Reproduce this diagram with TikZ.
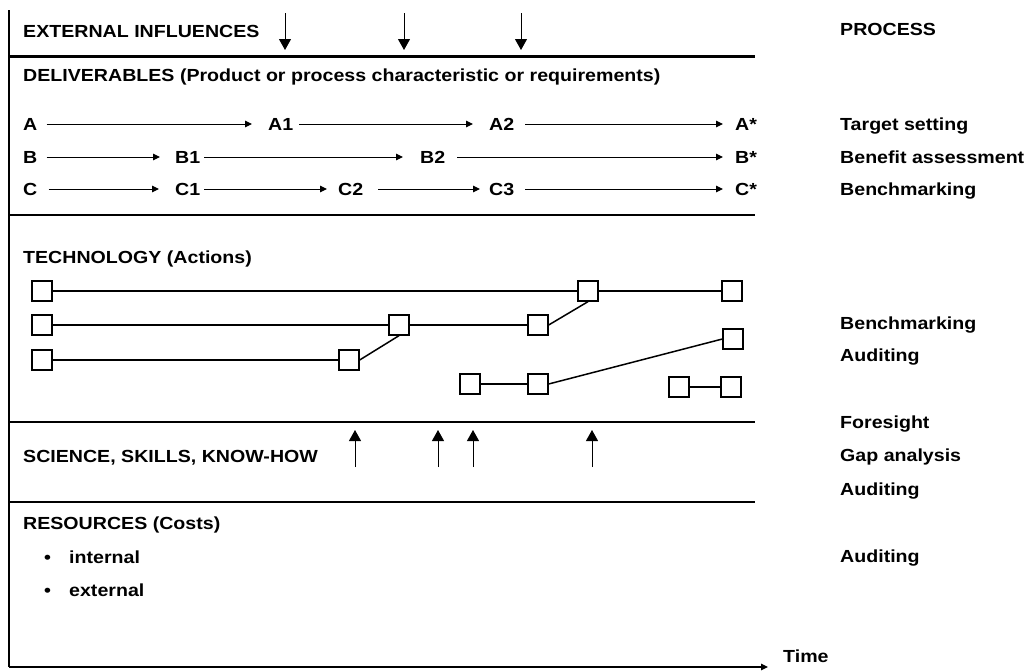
\documentclass[tikz,border=0pt]{standalone}
\usepackage{fontspec}
\setmainfont{Liberation Sans}[FakeStretch=1.12]
\usetikzlibrary{arrows.meta}
\begin{document}
\begin{tikzpicture}[x=1pt,y=-1pt,
  font=\fontsize{17.5}{21}\selectfont\bfseries,
  lbl/.style={anchor=base west, inner sep=0pt},
  dlbl/.style={anchor=base west, inner sep=0pt, text height=12.5pt, text depth=0pt},
  flow/.style={line width=1pt, -{Triangle[length=7pt,width=6.5pt]}},
  bigarrow/.style={line width=1pt, -{Triangle[length=11pt,width=12pt]}},
  sep/.style={line width=#1},
  techbox/.style={draw, line width=1.3pt, minimum size=20pt, inner sep=0pt, fill=white},
  techline/.style={line width=1.5pt},
]
\useasboundingbox (0,0) rectangle (1031,670);

% frame: time axis and section dividers
\coordinate (top) at (9,10);
\coordinate (origin) at (9,667);
\coordinate (tend) at (768,667);
\draw[line width=2pt] (top) -- (origin);
\draw[line width=1.2pt, -{Triangle[length=7pt,width=6.5pt]}] (origin) -- (tend);
\node[lbl] (time) at (783,662) {Time};

\coordinate (s1a) at (9,56.5);  \coordinate (s1b) at (755,56.5);
\coordinate (s2a) at (9,215);   \coordinate (s2b) at (755,215);
\coordinate (s3a) at (9,422);   \coordinate (s3b) at (755,422);
\coordinate (s4a) at (9,502);   \coordinate (s4b) at (755,502);
\draw[sep=3pt] (s1a) -- (s1b);
\draw[sep=2pt] (s2a) -- (s2b);
\draw[sep=2.4pt] (s3a) -- (s3b);
\draw[sep=1.8pt] (s4a) -- (s4b);

% section headings
\node[lbl] (ext) at (23,37) {EXTERNAL INFLUENCES};
\node[lbl] (del) at (23,81) {DELIVERABLES (Product or process characteristic or requirements)};
\node[lbl] (tech) at (23,263) {TECHNOLOGY (Actions)};
\node[lbl] (sci) at (23,462) {SCIENCE, SKILLS, KNOW-HOW};
\node[lbl] (res) at (23,529) {RESOURCES (Costs)};
\node[lbl] (b1) at (44,563) {\textbullet};
\node[lbl] (int) at (69,563) {internal};
\node[lbl] (b2) at (44,596) {\textbullet};
\node[lbl] (extn) at (69,596) {external};

% external influences
\foreach \x [count=\i] in {285,404,521} {
  \coordinate (ei\i a) at (\x,13);
  \coordinate (ei\i b) at (\x,50);
  \draw[bigarrow] (ei\i a) -- (ei\i b);
}

% science inputs
\foreach \x [count=\i] in {355,438,473,592} {
  \coordinate (sc\i a) at (\x,467);
  \coordinate (sc\i b) at (\x,430);
  \draw[bigarrow] (sc\i a) -- (sc\i b);
}

% deliverables
\node[dlbl] (A)  at (23,130.25)  {A};
\node[dlbl] (A1) at (268,130.25) {A1};
\node[dlbl] (A2) at (489,130.25) {A2};
\node[dlbl] (As) at (735,130.25) {A*};
\node[dlbl] (B)  at (23,163.25)  {B};
\node[dlbl] (B1) at (175,163.25) {B1};
\node[dlbl] (B2) at (420,163.25) {B2};
\node[dlbl] (Bs) at (735,163.25) {B*};
\node[dlbl] (C)  at (23,195.25)  {C};
\node[dlbl] (C1) at (175,195.25) {C1};
\node[dlbl] (C2) at (338,195.25) {C2};
\node[dlbl] (C3) at (489,195.25) {C3};
\node[dlbl] (Cs) at (735,195.25) {C*};

\draw[flow, shorten <=9pt,  shorten >=16pt] (A)  -- (A1);
\draw[flow, shorten <=6pt,  shorten >=16pt] (A1) -- (A2);
\draw[flow, shorten <=11pt, shorten >=12pt] (A2) -- (As);
\draw[flow, shorten <=9pt,  shorten >=15pt] (B)  -- (B1);
\draw[flow, shorten <=4pt,  shorten >=17pt] (B1) -- (B2);
\draw[flow, shorten <=12pt, shorten >=12pt] (B2) -- (Bs);
\draw[flow, shorten <=11pt, shorten >=16pt] (C)  -- (C1);
\draw[flow, shorten <=4pt,  shorten >=11pt] (C1) -- (C2);
\draw[flow, shorten <=15pt, shorten >=9pt]  (C2) -- (C3);
\draw[flow, shorten <=11pt, shorten >=12pt] (C3) -- (Cs);

% technology actions
\node[techbox] (t11) at (42,291) {};
\node[techbox] (t12) at (588,291) {};
\node[techbox] (t13) at (732,291) {};
\node[techbox] (t21) at (42,325) {};
\node[techbox] (t22) at (399,325) {};
\node[techbox] (t23) at (538,325) {};
\node[techbox] (t31) at (42,360) {};
\node[techbox] (t32) at (349,360) {};
\node[techbox] (t41) at (470,384) {};
\node[techbox] (t42) at (538,384) {};
\node[techbox] (t43) at (733,339) {};
\node[techbox] (t51) at (679,387) {};
\node[techbox] (t52) at (731,387) {};

\draw[techline, line width=1.9pt] (t11) -- (t12) -- (t13);
\draw[techline] (t21) -- (t22) -- (t23);
\draw[techline] (t31) -- (t32);
\draw[techline] (t32.east) -- (t22.south);
\draw[techline] (t23.east) -- (t12.south);
\draw[techline] (t41) -- (t42);
\draw[techline] (t42.east) -- (t43.west);
\draw[techline] (t51) -- (t52);

% process column
\node[lbl] (proc) at (840,35.5) {PROCESS};
\node[lbl] (p1) at (840,130.5) {Target setting};
\node[lbl] (p2) at (840,163.5) {Benefit assessment};
\node[lbl] (p3) at (840,195.5) {Benchmarking};
\node[lbl] (p4) at (840,329.5) {Benchmarking};
\node[lbl] (p5) at (840,361.5) {Auditing};
\node[lbl] (p6) at (840,428.5) {Foresight};
\node[lbl] (p7) at (840,461.5) {Gap analysis};
\node[lbl] (p8) at (840,495.5) {Auditing};
\node[lbl] (p9) at (840,562.5) {Auditing};
\end{tikzpicture}
\end{document}
